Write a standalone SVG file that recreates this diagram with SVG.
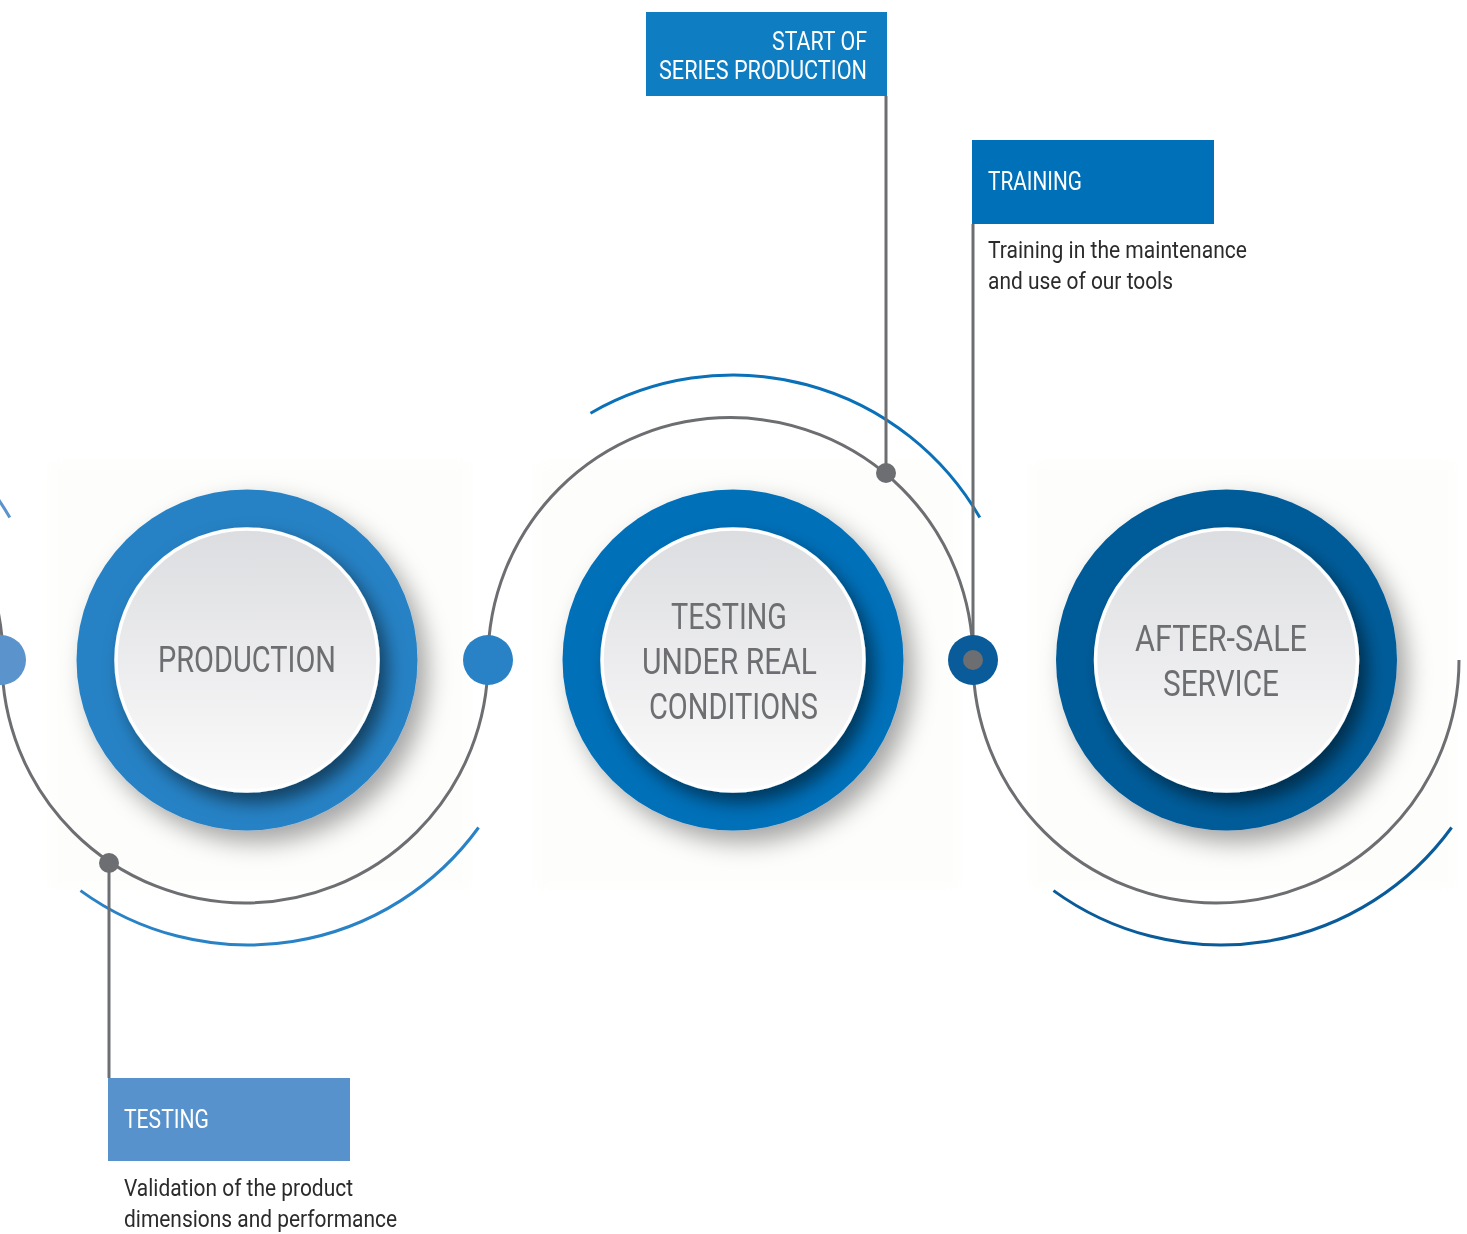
<svg xmlns="http://www.w3.org/2000/svg" width="1467" height="1234" viewBox="0 0 1467 1234">
<defs>
<style>
.ctext{font-family:Roboto,"Liberation Sans",sans-serif;font-size:37px;fill:#6d6e71;text-anchor:middle}
.ltext{font-family:Roboto,"Liberation Sans",sans-serif;font-size:25px;fill:#ffffff}
.dtext{font-family:Roboto,"Liberation Sans",sans-serif;font-size:24px;fill:#2b2b2b}
.garc{fill:none;stroke:#6d6e71;stroke-width:3}
.gline{stroke:#6d6e71;stroke-width:3}
.gdot{fill:#6d6e71}
.barc{fill:none;stroke-width:3}
.panel{fill:#f7f7f4;opacity:0.3}
.disc{fill:url(#discGrad);stroke:#ffffff;stroke-width:3.5;filter:url(#innerShadow)}
</style>
<linearGradient id="discGrad" x1="0" y1="0" x2="0" y2="1">
<stop offset="0" stop-color="#dcdde0"/>
<stop offset="1" stop-color="#fbfbfb"/>
</linearGradient>
<filter id="ringShadow" x="-30%" y="-30%" width="160%" height="160%">
<feDropShadow dx="10" dy="12" stdDeviation="12" flood-color="#000000" flood-opacity="0.35"/>
</filter>
<filter id="innerShadow" x="-30%" y="-30%" width="160%" height="160%">
<feDropShadow dx="8" dy="10" stdDeviation="9" flood-color="#000000" flood-opacity="0.5"/>
</filter>
<filter id="soft" x="-10%" y="-10%" width="120%" height="120%">
<feGaussianBlur stdDeviation="6"/>
</filter>
</defs>
<rect width="1467" height="1234" fill="#ffffff"/>
<g id="panels" filter="url(#soft)">
<rect class="panel" x="50" y="462" width="420" height="426"/>
<rect class="panel" x="535" y="462" width="425" height="426"/>
<rect class="panel" x="1030" y="462" width="425" height="426"/>
</g>
<g id="connectors">
<path class="barc" stroke="#5b93cc" d="M -379.5 413.2 A 285 285 0 0 1 9.8 517.5"/>
<path class="barc" stroke="#2a82c6" d="M 80.5 890.6 A 285 285 0 0 0 478.6 827.5"/>
<path class="barc" stroke="#0a70b8" d="M 590.5 413.2 A 285 285 0 0 1 979.8 517.5"/>
<path class="barc" stroke="#0a5b9a" d="M 1053.5 890.6 A 285 285 0 0 0 1451.6 827.5"/>
<path class="garc" d="M -483 660 A 243 243 0 0 1 3 660"/>
<path class="garc" d="M 2 660 A 243 243 0 0 0 488 660"/>
<path class="garc" d="M 488 660 A 242.5 242.5 0 0 1 973 660"/>
<path class="garc" d="M 973 660 A 243 243 0 0 0 1459 660"/>
<line class="gline" x1="109" y1="863" x2="109" y2="1078"/>
<line class="gline" x1="886" y1="96" x2="886" y2="473"/>
<line class="gline" x1="973" y1="224" x2="973" y2="660"/>
<circle cx="1" cy="660" r="25" fill="#5b93cc"/>
<circle cx="488" cy="660" r="25" fill="#2a82c6"/>
<circle cx="973" cy="660" r="25" fill="#0a5b9a"/>
<circle class="gdot" cx="109" cy="863" r="10"/>
<circle class="gdot" cx="886" cy="473" r="10"/>
<circle class="gdot" cx="973" cy="660" r="10"/>
</g>
<g id="node-production">
<circle cx="247" cy="660" r="170.5" fill="#2882c5" filter="url(#ringShadow)"/>
<circle class="disc" cx="247" cy="660" r="131"/>
<text class="ctext" x="247" y="672" textLength="178" lengthAdjust="spacingAndGlyphs">PRODUCTION</text>
</g>
<g id="node-testing">
<circle cx="733" cy="660" r="170.5" fill="#0070b9" filter="url(#ringShadow)"/>
<circle class="disc" cx="733" cy="660" r="131"/>
<text class="ctext" x="729" y="629" textLength="116" lengthAdjust="spacingAndGlyphs">TESTING</text>
<text class="ctext" x="729.5" y="674" textLength="175" lengthAdjust="spacingAndGlyphs">UNDER REAL</text>
<text class="ctext" x="733.5" y="719" textLength="169" lengthAdjust="spacingAndGlyphs">CONDITIONS</text>
</g>
<g id="node-after-sale">
<circle cx="1226.5" cy="660" r="170.5" fill="#065b99" filter="url(#ringShadow)"/>
<circle class="disc" cx="1226.5" cy="660" r="131"/>
<text class="ctext" x="1221" y="651" textLength="172" lengthAdjust="spacingAndGlyphs">AFTER-SALE</text>
<text class="ctext" x="1221" y="696" textLength="116" lengthAdjust="spacingAndGlyphs">SERVICE</text>
</g>
<g id="label-start">
<rect x="646" y="12" width="241" height="84" fill="#0e7dc2"/>
<text class="ltext" x="867" y="50" text-anchor="end" textLength="95" lengthAdjust="spacingAndGlyphs">START OF</text>
<text class="ltext" x="867" y="79" text-anchor="end" textLength="208" lengthAdjust="spacingAndGlyphs">SERIES PRODUCTION</text>
</g>
<g id="label-training">
<rect x="972" y="140" width="242" height="84" fill="#0070b8"/>
<text class="ltext" x="988" y="190" textLength="94" lengthAdjust="spacingAndGlyphs">TRAINING</text>
<text class="dtext" x="988" y="258" textLength="259" lengthAdjust="spacingAndGlyphs">Training in the maintenance</text>
<text class="dtext" x="988" y="289" textLength="185" lengthAdjust="spacingAndGlyphs">and use of our tools</text>
</g>
<g id="label-testing">
<rect x="108" y="1078" width="242" height="83" fill="#5892cc"/>
<text class="ltext" x="124" y="1128" textLength="85" lengthAdjust="spacingAndGlyphs">TESTING</text>
<text class="dtext" x="124" y="1196" textLength="229" lengthAdjust="spacingAndGlyphs">Validation of the product</text>
<text class="dtext" x="124" y="1227" textLength="273" lengthAdjust="spacingAndGlyphs">dimensions and performance</text>
</g>
</svg>
